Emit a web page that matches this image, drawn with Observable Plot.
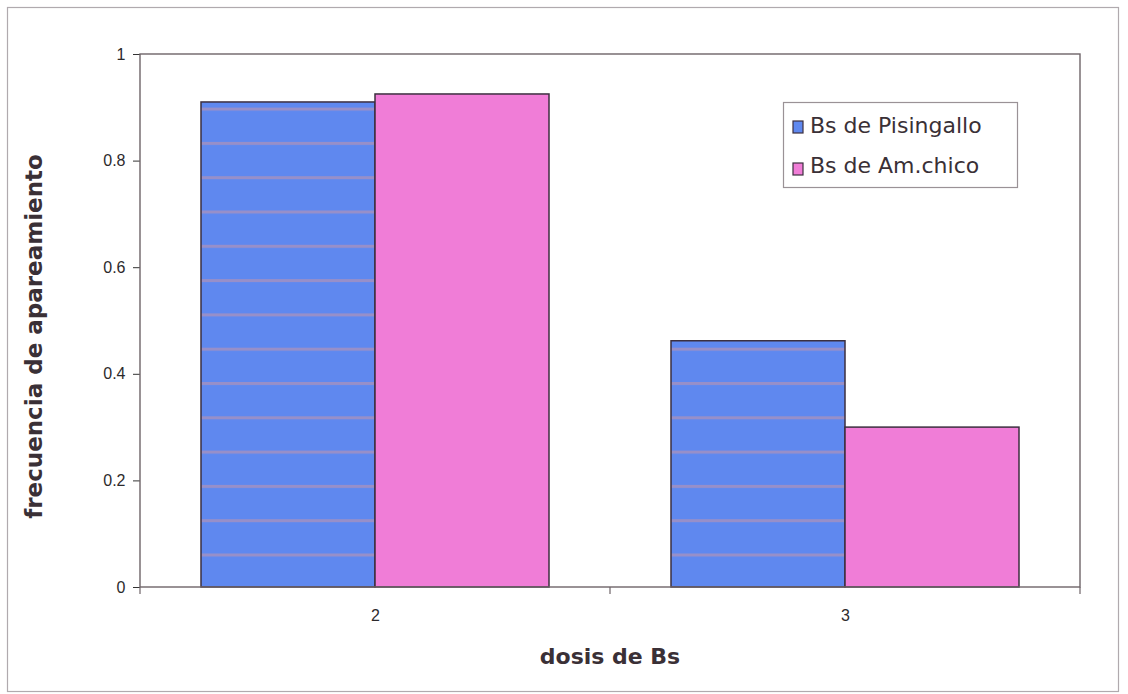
<!DOCTYPE html>
<html>
<head>
<meta charset="utf-8">
<script src="https://cdn.jsdelivr.net/npm/d3@7"></script>
<script src="https://cdn.jsdelivr.net/npm/@observablehq/plot@0.6"></script>
<style>
  html, body { margin: 0; padding: 0; background: #fff; }
  #chart { width: 1128px; height: 694px; }
</style>
</head>
<body>
<div id="chart"></div>
<script>
// Doses of B chromosomes (categories on the x axis)
const doses = ["2", "3"];
// Series shown side by side within each dose
const series = ["Bs de Pisingallo", "Bs de Am.chico"];
// Pairing frequency per series, one value per dose
const pisingallo = [0.91, 0.462];
const amChico = [0.925, 0.30];
// Y axis ticks
const yTicks = [0, 0.2, 0.4, 0.6, 0.8, 1];
const colors = ["#5f88ef", "#f07dd7"];

const rows = doses.flatMap((d, i) => [
  {dose: d, series: series[0], value: pisingallo[i]},
  {dose: d, series: series[1], value: amChico[i]}
]);

const inkColor = "#3a3036";
const barStroke = "#3c2f3f";

const chart = Plot.plot({
  width: 1128,
  height: 694,
  marginLeft: 140,
  marginRight: 48,
  marginTop: 54,
  marginBottom: 107,
  style: {fontFamily: "'Liberation Sans', Arial, sans-serif", fontSize: "16px", color: "#333", background: "#fff"},
  fx: {domain: doses, padding: 0, label: null, axis: "bottom", tickSize: 0, tickPadding: 22},
  x: {domain: series, paddingInner: 0, paddingOuter: 0.35, axis: null},
  y: {domain: [0, 1], ticks: yTicks, tickFormat: d => String(d), tickSize: 7, tickPadding: 8, label: null},
  color: {domain: series, range: colors},
  marks: [
    Plot.barY(rows, {fx: "dose", x: "series", y: "value", fill: "series", stroke: barStroke, strokeWidth: 1.5})
  ]
});

document.getElementById("chart").appendChild(chart);

const svg = d3.select(chart);
const y = chart.scale("y");
const fx = chart.scale("fx");
const y0 = y.apply(0), y1 = y.apply(1);
const xLeft = fx.range[0], xRight = fx.range[1];

// Tick label styling (all text drawn by Plot is axis text here)
svg.selectAll("g").each(function() {
  if (this.getAttribute("font-size")) this.setAttribute("font-size", 16);
});
svg.selectAll("text")
  .attr("font-size", 16).style("font-size", "16px")
  .attr("font-family", "'Liberation Sans', Arial, sans-serif")
  .attr("fill", "#2c2a2c");

// Blue bars: swap the flat fill for a banded pattern
const blueBars = svg.selectAll("rect").filter(function() {
  return (this.getAttribute("fill") || "").toLowerCase() === colors[0];
});
const defs = svg.insert("defs", ":first-child");
const pat = defs.append("pattern")
  .attr("id", "stripes")
  .attr("patternUnits", "userSpaceOnUse")
  .attr("x", 0).attr("y", y0 - 33.5)
  .attr("width", 20).attr("height", 34.3);
pat.append("rect").attr("width", 20).attr("height", 34.3).attr("fill", colors[0]);
pat.append("rect").attr("y", 0).attr("width", 20).attr("height", 3).attr("fill", "#a191c2").attr("opacity", 0.85);
blueBars.attr("fill", "url(#stripes)");

// Plot-area frame
svg.append("rect")
  .attr("x", xLeft).attr("y", y1)
  .attr("width", xRight - xLeft).attr("height", y0 - y1)
  .attr("fill", "none").attr("stroke", "#6e6468").attr("stroke-width", 1.4);

// Category boundary ticks on the x axis
const bounds = Array.from(new Set(doses.flatMap(d => [fx.apply(d), fx.apply(d) + fx.bandwidth])));
svg.append("g").selectAll("line").data(bounds).join("line")
  .attr("x1", d => d).attr("x2", d => d)
  .attr("y1", y0).attr("y2", y0 + 7)
  .attr("stroke", "#6e6468").attr("stroke-width", 1.2);

// Axis titles
svg.append("text")
  .attr("transform", `translate(42,${(y0 + y1) / 2 + 16}) rotate(-90)`)
  .attr("text-anchor", "middle")
  .attr("font-family", "'DejaVu Sans', sans-serif")
  .attr("font-weight", "bold").attr("font-size", 23)
  .attr("fill", inkColor)
  .text("frecuencia de apareamiento");

svg.append("text")
  .attr("x", (xLeft + xRight) / 2).attr("y", 664)
  .attr("text-anchor", "middle")
  .attr("font-family", "'DejaVu Sans', sans-serif")
  .attr("font-weight", "bold").attr("font-size", 22)
  .attr("fill", inkColor)
  .text("dosis de Bs");

// Legend
const lg = svg.append("g").attr("text-anchor", "start");
lg.append("rect")
  .attr("x", 783.5).attr("y", 102.5).attr("width", 234).attr("height", 85)
  .attr("fill", "#fff").attr("stroke", "#9a9296").attr("stroke-width", 1.2);
series.forEach((s, i) => {
  lg.append("rect")
    .attr("x", 793).attr("y", 121 + i * 42).attr("width", 10).attr("height", 12)
    .attr("fill", colors[i]).attr("stroke", barStroke).attr("stroke-width", 1.2);
  lg.append("text")
    .attr("x", 810).attr("y", 133 + i * 40)
    .attr("text-anchor", "start")
    .attr("font-family", "'DejaVu Sans', sans-serif")
    .attr("font-size", 22)
    .attr("fill", inkColor)
    .text(s);
});

// Outer chart border
svg.append("rect")
  .attr("x", 7.5).attr("y", 7.5).attr("width", 1111).attr("height", 684)
  .attr("fill", "none").attr("stroke", "#b0aaae").attr("stroke-width", 1.2);
</script>
</body>
</html>
